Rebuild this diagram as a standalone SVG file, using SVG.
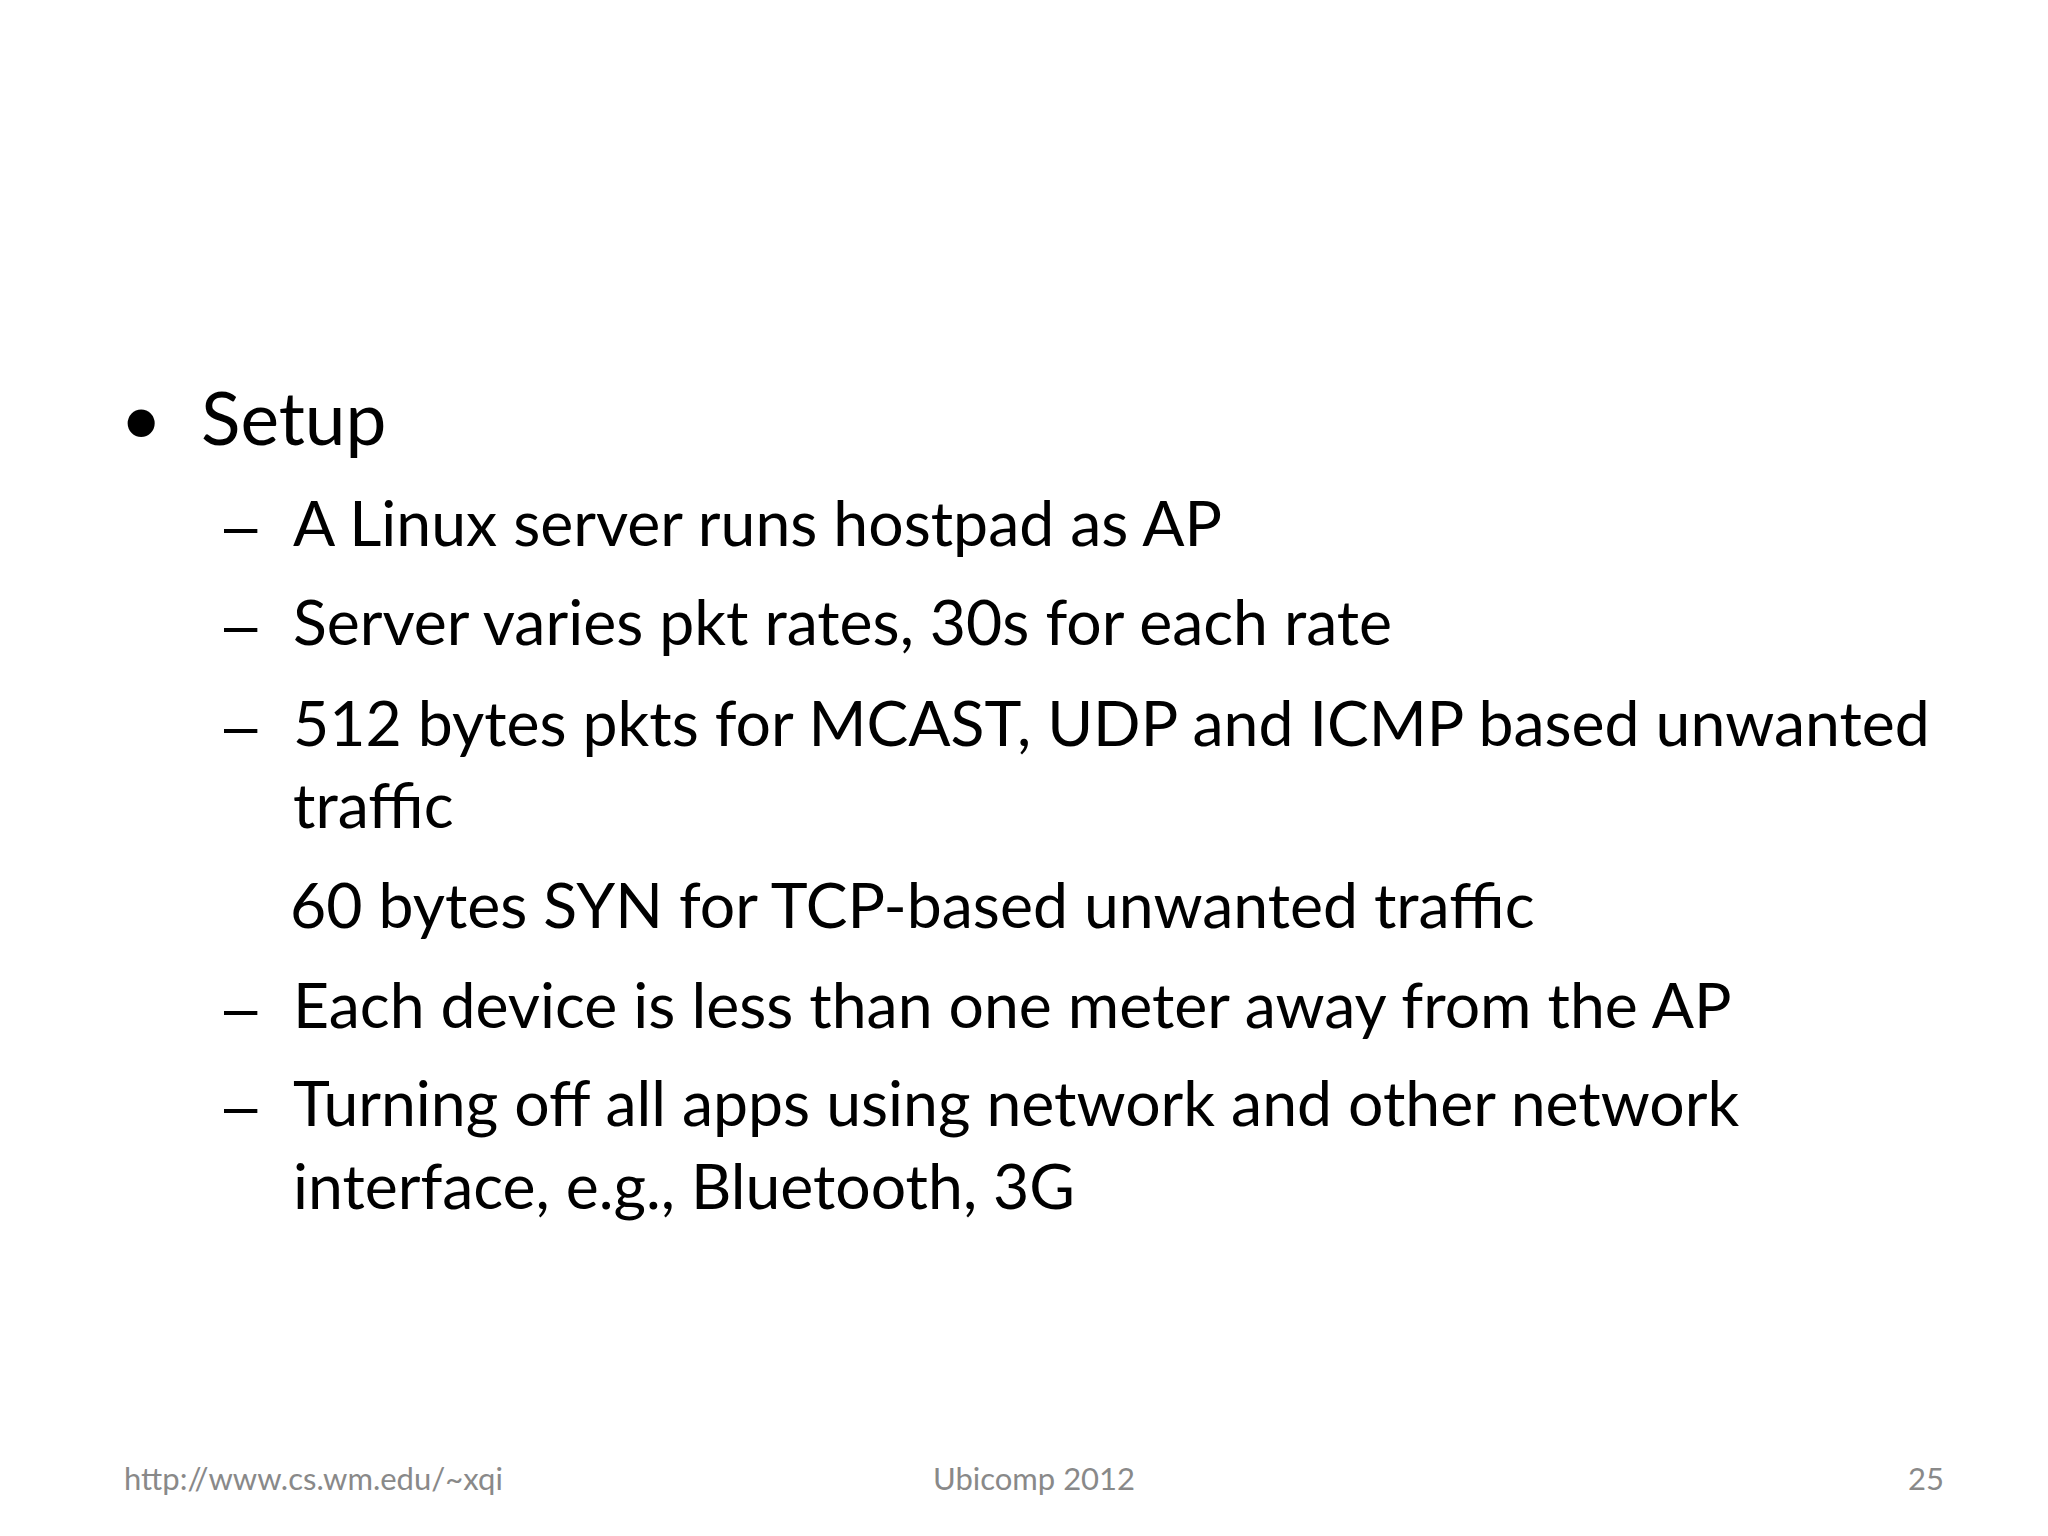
<svg xmlns="http://www.w3.org/2000/svg" width="2048" height="1536" viewBox="0 0 2048 1536">
<style>
.t{font-family:Lato,"Open Sans","Liberation Sans",sans-serif;fill:#000}
.d{font-family:"Liberation Sans",sans-serif;font-size:60px;fill:#000}
.b1{font-size:73px}
.b2{font-size:62.5px}
.f{font-family:Lato,"Open Sans","Liberation Sans",sans-serif;font-size:31px;fill:#898989}
</style>
<rect width="2048" height="1536" fill="#fff"/>
<g id="content">
<text class="t b1" x="120" y="445">•</text>
<text class="t b1" x="201" y="445">Setup</text>
<text class="d" x="224" y="546">–</text><text class="t b2" x="293" y="546">A Linux server runs hostpad as AP</text>
<text class="d" x="224" y="645">–</text><text class="t b2" x="293" y="645">Server varies pkt rates, 30s for each rate</text>
<text class="d" x="224" y="746">–</text><text class="t b2" x="293" y="746">512 bytes pkts for MCAST, UDP and ICMP based unwanted</text>
<text class="t b2" x="293" y="828">traffic</text>
<text class="t b2" x="290" y="928">60 bytes SYN for TCP-based unwanted traffic</text>
<text class="d" x="224" y="1028">–</text><text class="t b2" x="293" y="1028">Each device is less than one meter away from the AP</text>
<text class="d" x="224" y="1126">–</text><text class="t b2" x="293" y="1126">Turning off all apps using network and other network</text>
<text class="t b2" x="293" y="1209">interface, e.g., Bluetooth, 3G</text>
</g>
<g id="footer">
<text class="f" x="124" y="1490">http://www.cs.wm.edu/~xqi</text>
<text class="f" x="1034" y="1490" text-anchor="middle">Ubicomp 2012</text>
<text class="f" x="1944" y="1490" text-anchor="end">25</text>
</g>
</svg>
